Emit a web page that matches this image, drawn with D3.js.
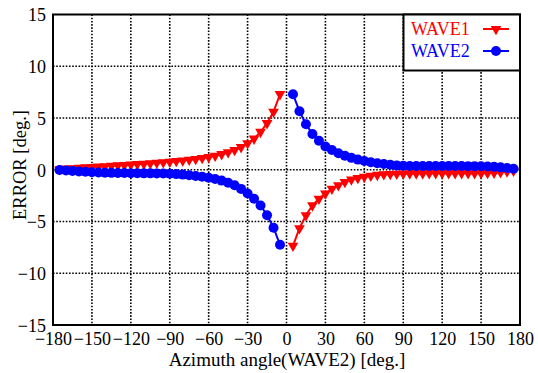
<!DOCTYPE html>
<html>
<head>
<meta charset="utf-8">
<script src="https://cdn.jsdelivr.net/npm/d3@7"></script>
<style>
html,body{margin:0;padding:0;background:#fff;}
svg{display:block;}
</style>
</head>
<body>
<svg id="chart" width="538" height="373"></svg>
<script>
const angles = [-175,-170,-165,-160,-155,-150,-145,-140,-135,-130,-125,-120,-115,-110,-105,-100,-95,-90,-85,-80,-75,-70,-65,-60,-55,-50,-45,-40,-35,-30,-25,-20,-15,-10,-5,
  0,
  5,10,15,20,25,30,35,40,45,50,55,60,65,70,75,80,85,90,95,100,105,110,115,120,125,130,135,140,145,150,155,160,165,170,175];

const wave1 = [0.05,0.1,0.14,0.18,0.22,0.26,0.3,0.34,0.38,0.42,0.46,0.5,0.54,0.58,0.62,0.67,0.72,0.77,0.83,0.89,0.96,1.04,1.13,1.23,1.35,1.5,1.68,1.9,2.18,2.55,3.0,3.65,4.5,5.6,7.3,
  null,
  -7.35,-5.65,-4.4,-3.45,-2.8,-2.3,-1.85,-1.5,-1.2,-0.95,-0.8,-0.68,-0.58,-0.5,-0.45,-0.42,-0.4,-0.38,-0.37,-0.36,-0.36,-0.35,-0.35,-0.35,-0.35,-0.35,-0.35,-0.35,-0.34,-0.34,-0.33,-0.3,-0.25,-0.18,-0.1];

const wave2 = [-0.02,-0.08,-0.12,-0.16,-0.2,-0.24,-0.26,-0.28,-0.3,-0.31,-0.32,-0.33,-0.34,-0.35,-0.35,-0.36,-0.37,-0.38,-0.42,-0.47,-0.53,-0.6,-0.68,-0.78,-0.9,-1.05,-1.25,-1.5,-1.85,-2.3,-2.8,-3.45,-4.4,-5.6,-7.25,
  null,
  7.3,5.65,4.4,3.45,2.8,2.25,1.9,1.6,1.36,1.15,0.98,0.85,0.73,0.63,0.55,0.48,0.42,0.38,0.37,0.36,0.36,0.36,0.36,0.36,0.36,0.36,0.36,0.35,0.35,0.34,0.32,0.28,0.23,0.17,0.1];

const xTicks = [-180,-150,-120,-90,-60,-30,0,30,60,90,120,150,180];
const yTicks = [-15,-10,-5,0,5,10,15];
const seriesNames = ["WAVE1","WAVE2"];
const seriesColors = ["#ff0000","#0000ff"];

const FONT = "Liberation Serif";
const svg = d3.select("#chart");
const L = 53, R = 520, T = 14.5, B = 325;
const x = d3.scaleLinear().domain([-180,180]).range([L,R]);
const y = d3.scaleLinear().domain([-15,15]).range([B,T]);

// grid
const grid = svg.append("g").attr("stroke","#000").attr("stroke-width",1.6).attr("stroke-dasharray","1.6,1.6");
xTicks.slice(1,-1).forEach(t=>{
  grid.append("line").attr("x1",x(t)).attr("x2",x(t)).attr("y1",T).attr("y2",B);
});
yTicks.slice(1,-1).forEach(t=>{
  grid.append("line").attr("x1",L).attr("x2",R).attr("y1",y(t)).attr("y2",y(t));
});

// axes
const xAxis = d3.axisBottom(x).tickValues(xTicks).tickSize(0).tickPadding(7).tickFormat(d3.format("d"));
const yAxis = d3.axisLeft(y).tickValues(yTicks).tickSize(0).tickPadding(7).tickFormat(d3.format("d"));
const gx = svg.append("g").attr("transform",`translate(0,${B})`).call(xAxis);
const gy = svg.append("g").attr("transform",`translate(${L},0)`).call(yAxis);
[gx,gy].forEach(g=>{
  g.select(".domain").remove();
  g.attr("font-family",null).attr("font-size",null);
  g.selectAll("text").style("font-family",FONT).style("font-size","18px").attr("fill","#000");
});
gy.selectAll("text").attr("dy","0.35em");

// frame
svg.append("rect").attr("x",L).attr("y",T).attr("width",R-L).attr("height",B-T)
  .attr("fill","none").attr("stroke","#000").attr("stroke-width",2);

// axis titles
svg.append("text").attr("x",287).attr("y",366).attr("text-anchor","middle")
  .style("font-family",FONT).style("font-size","19px").text("Azimuth angle(WAVE2) [deg.]");
svg.append("text").attr("transform","translate(26,165) rotate(-90)").attr("text-anchor","middle")
  .style("font-family",FONT).style("font-size","18.5px").text("ERROR [deg.]");

const tri = d3.symbol().type(d3.symbolTriangle).size(50);
function drawSeries(vals, color, marker){
  const pts = angles.map((a,i)=>({a, v: vals[i]}));
  const line = d3.line().defined(d=>d.v!==null).x(d=>x(d.a)).y(d=>y(d.v));
  svg.append("path").datum(pts).attr("d",line).attr("fill","none").attr("stroke",color).attr("stroke-width",2);
  const g = svg.append("g").attr("fill",color);
  const good = pts.filter(d=>d.v!==null);
  if(marker==="tri"){
    g.selectAll("path").data(good).join("path").attr("d",tri)
      .attr("transform",d=>`translate(${x(d.a)},${y(d.v)}) rotate(180)`);
  } else {
    g.selectAll("circle").data(good).join("circle").attr("cx",d=>x(d.a)).attr("cy",d=>y(d.v)).attr("r",5);
  }
}
drawSeries(wave1, seriesColors[0], "tri");
drawSeries(wave2, seriesColors[1], "circle");

// legend
const lg = svg.append("g");
lg.append("rect").attr("x",403.5).attr("y",T).attr("width",R-403.5).attr("height",56)
  .attr("fill","#fff").attr("stroke","#000").attr("stroke-width",2);
seriesNames.forEach((n,i)=>{
  const cy = 29 + i*22;
  lg.append("text").attr("x",411).attr("y",cy+6).style("font-family",FONT).style("font-size","18px")
    .attr("fill",seriesColors[i]).text(n);
  lg.append("line").attr("x1",483).attr("x2",509).attr("y1",cy).attr("y2",cy).attr("stroke",seriesColors[i]).attr("stroke-width",2);
  if(i===0){
    lg.append("path").attr("d",tri).attr("fill",seriesColors[i]).attr("transform",`translate(496,${cy}) rotate(180)`);
  } else {
    lg.append("circle").attr("cx",496).attr("cy",cy).attr("r",5).attr("fill",seriesColors[i]);
  }
});
</script>
</body>
</html>
